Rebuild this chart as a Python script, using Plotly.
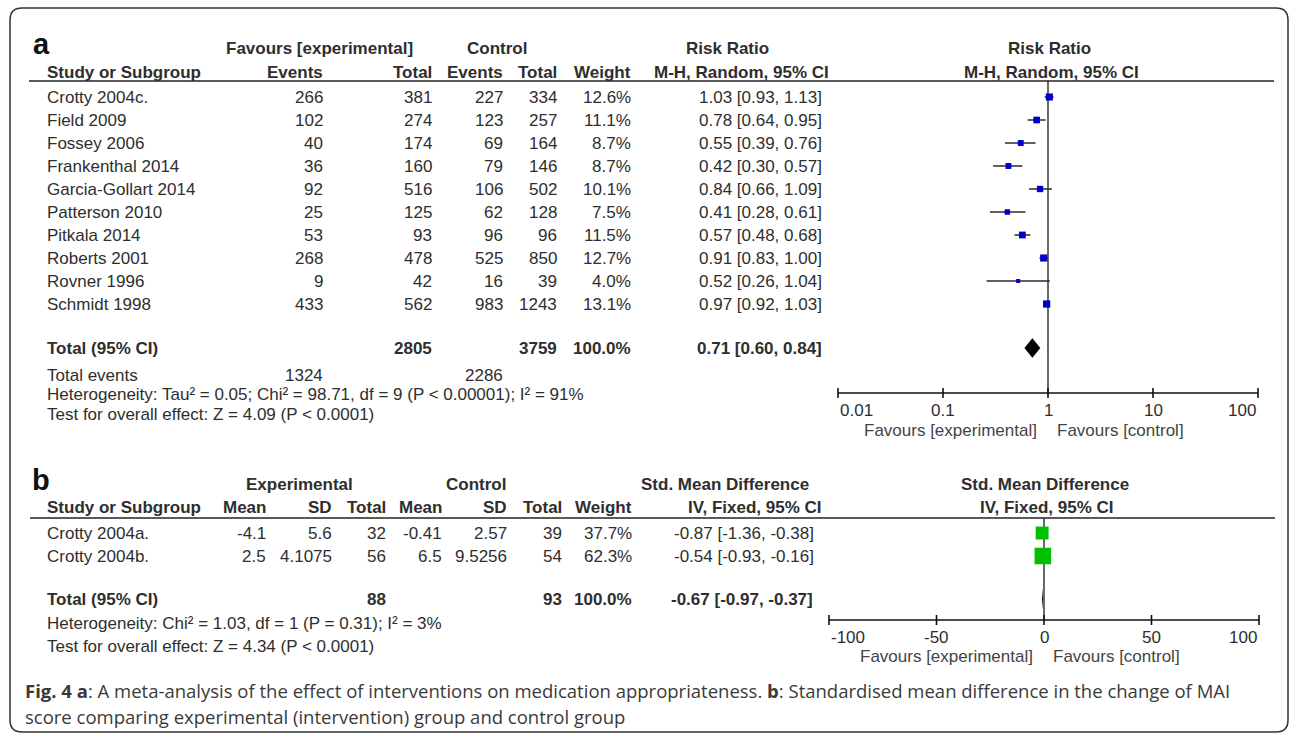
import numpy as np
import plotly.graph_objects as go

W, H = 1292, 736

# ---------------- Data: panel a (Risk Ratio) ----------------
studies_a = ["Crotty 2004c.", "Field 2009", "Fossey 2006", "Frankenthal 2014",
             "Garcia-Gollart 2014", "Patterson 2010", "Pitkala 2014",
             "Roberts 2001", "Rovner 1996", "Schmidt 1998"]
exp_events_a = [266, 102, 40, 36, 92, 25, 53, 268, 9, 433]
exp_total_a = [381, 274, 174, 160, 516, 125, 93, 478, 42, 562]
ctrl_events_a = [227, 123, 69, 79, 106, 62, 96, 525, 16, 983]
ctrl_total_a = [334, 257, 164, 146, 502, 128, 96, 850, 39, 1243]
weight_a = [12.6, 11.1, 8.7, 8.7, 10.1, 7.5, 11.5, 12.7, 4.0, 13.1]
rr = [1.03, 0.78, 0.55, 0.42, 0.84, 0.41, 0.57, 0.91, 0.52, 0.97]
rr_lo = [0.93, 0.64, 0.39, 0.30, 0.66, 0.28, 0.48, 0.83, 0.26, 0.92]
rr_hi = [1.13, 0.95, 0.76, 0.57, 1.09, 0.61, 0.68, 1.00, 1.04, 1.03]
total_a = {"exp_total": 2805, "ctrl_total": 3759, "weight": 100.0,
           "est": 0.71, "lo": 0.60, "hi": 0.84,
           "exp_events": 1324, "ctrl_events": 2286}
het_a = "Heterogeneity: Tau² = 0.05; Chi² = 98.71, df = 9 (P < 0.00001); I² = 91%"
test_a = "Test for overall effect: Z = 4.09 (P < 0.0001)"
ticks_a = [0.01, 0.1, 1, 10, 100]
ticklabels_a = ["0.01", "0.1", "1", "10", "100"]

# ---------------- Data: panel b (Std. Mean Difference) ----------------
studies_b = ["Crotty 2004a.", "Crotty 2004b."]
exp_mean_b = ["-4.1", "2.5"]
exp_sd_b = ["5.6", "4.1075"]
exp_n_b = [32, 56]
ctrl_mean_b = ["-0.41", "6.5"]
ctrl_sd_b = ["2.57", "9.5256"]
ctrl_n_b = [39, 54]
weight_b = [37.7, 62.3]
smd = [-0.87, -0.54]
smd_lo = [-1.36, -0.93]
smd_hi = [-0.38, -0.16]
total_b = {"exp_n": 88, "ctrl_n": 93, "weight": 100.0,
           "est": -0.67, "lo": -0.97, "hi": -0.37}
het_b = "Heterogeneity: Chi² = 1.03, df = 1 (P = 0.31); I² = 3%"
test_b = "Test for overall effect: Z = 4.34 (P < 0.0001)"
ticks_b = [-100, -50, 0, 50, 100]
ticklabels_b = ["-100", "-50", "0", "50", "100"]

caption1 = ("<b>Fig. 4 a</b>: A meta-analysis of the effect of interventions on medication "
            "appropriateness. <b>b</b>: Standardised mean difference in the change of MAI")
caption2 = "score comparing experimental (intervention) group and control group"

# ---------------- helpers ----------------
FONT = "Liberation Sans, Arial, sans-serif"
TXT = "#2e2e2e"
FS = 17


def px(x):
    return x / W


def py(y):
    return 1 - y / H


annotations = []


def txt(x, y, s, anchor="left", bold=False, size=FS, color=TXT, font=FONT):
    if bold:
        s = "<b>" + s + "</b>"
    annotations.append(dict(x=px(x), y=py(y), xref="paper", yref="paper", text=s,
                            showarrow=False, xanchor=anchor, yanchor="middle",
                            font=dict(family=font, size=size, color=color)))


def ci_text(e, lo, hi):
    return f"{e:.2f} [{lo:.2f}, {hi:.2f}]"


fig = go.Figure()
LINEC = "#2a2a2a"

# ================= Panel a =================
A_ROW0, STEP = 97, 23
rows_a = [A_ROW0 + STEP * i for i in range(len(studies_a))]
A_TOTAL, A_EVT, A_HET, A_TEST = 348, 375, 394, 414
A_H1, A_H2, A_LINE = 49, 72, 81
A_AXIS = 393

txt(31, 44, "a", bold=True, size=29, color="#111111")
txt(319, A_H1, "Favours [experimental]", "center", True)
txt(497, A_H1, "Control", "center", True)
txt(728, A_H1, "Risk Ratio", "center", True)
txt(1049, A_H1, "Risk Ratio", "center", True)
txt(45, A_H2, "Study or Subgroup", "left", True)
txt(325, A_H2, "Events", "right", True)
txt(434, A_H2, "Total", "right", True)
txt(505, A_H2, "Events", "right", True)
txt(559, A_H2, "Total", "right", True)
txt(633, A_H2, "Weight", "right", True)
txt(831, A_H2, "M-H, Random, 95% CI", "right", True)
txt(1051, A_H2, "M-H, Random, 95% CI", "center", True)

for i, yv in enumerate(rows_a):
    txt(45, yv, studies_a[i])
    txt(325, yv, str(exp_events_a[i]), "right")
    txt(434, yv, str(exp_total_a[i]), "right")
    txt(505, yv, str(ctrl_events_a[i]), "right")
    txt(559, yv, str(ctrl_total_a[i]), "right")
    txt(633, yv, f"{weight_a[i]:.1f}%", "right")
    txt(824, yv, ci_text(rr[i], rr_lo[i], rr_hi[i]), "right")

txt(45, A_TOTAL, "Total (95% CI)", bold=True)
txt(434, A_TOTAL, str(total_a["exp_total"]), "right", True)
txt(559, A_TOTAL, str(total_a["ctrl_total"]), "right", True)
txt(633, A_TOTAL, f"{total_a['weight']:.1f}%", "right", True)
txt(824, A_TOTAL, ci_text(total_a["est"], total_a["lo"], total_a["hi"]), "right", True)
txt(45, A_EVT, "Total events")
txt(325, A_EVT, str(total_a["exp_events"]), "right")
txt(505, A_EVT, str(total_a["ctrl_events"]), "right")
txt(45, A_HET, het_a)
txt(45, A_TEST, test_a)

# CI lines
xs, ys = [], []
for lo, hi, yv in zip(rr_lo, rr_hi, rows_a):
    xs += [lo, hi, None]
    ys += [yv, yv, None]
fig.add_trace(go.Scatter(x=xs, y=ys, mode="lines", line=dict(color=LINEC, width=1.4),
                         xaxis="x", yaxis="y", hoverinfo="skip"))
# null line
fig.add_trace(go.Scatter(x=[1, 1], y=[A_LINE, A_AXIS], mode="lines",
                         line=dict(color=LINEC, width=1.4), xaxis="x", yaxis="y"))
# axis line + ticks
xs, ys = [ticks_a[0], ticks_a[-1], None], [A_AXIS, A_AXIS, None]
for t in ticks_a:
    xs += [t, t, None]
    ys += [A_AXIS - 5, A_AXIS + 5, None]
fig.add_trace(go.Scatter(x=xs, y=ys, mode="lines", line=dict(color="#111111", width=1.6),
                         xaxis="x", yaxis="y"))
# squares
fig.add_trace(go.Scatter(x=rr, y=rows_a, mode="markers", xaxis="x", yaxis="y",
                         cliponaxis=False,
                         marker=dict(symbol="square", color="#0000CC", opacity=1,
                                     size=[np.sqrt(w) * 2.0 for w in weight_a],
                                     line=dict(width=0))))
# diamond
fig.add_trace(go.Scatter(x=[total_a["lo"], total_a["est"], total_a["hi"], total_a["est"], total_a["lo"]],
                         y=[A_TOTAL, A_TOTAL - 9.5, A_TOTAL, A_TOTAL + 9.5, A_TOTAL],
                         mode="lines", fill="toself", fillcolor="#000000",
                         line=dict(color="#000000", width=0.5), xaxis="x", yaxis="y"))

for i, t in enumerate(ticks_a):
    anc = "left" if i == 0 else ("right" if i == len(ticks_a) - 1 else "center")
    annotations.append(dict(x=np.log10(t), y=py(410), xref="x", yref="paper",
                            text=ticklabels_a[i], showarrow=False, xanchor=anc,
                            yanchor="middle", font=dict(family=FONT, size=FS, color=TXT)))
annotations.append(dict(x=0, y=py(430), xref="x", yref="paper", text="Favours [experimental]",
                        showarrow=False, xanchor="right", xshift=-9, yanchor="middle",
                        font=dict(family=FONT, size=FS, color="#444444")))
annotations.append(dict(x=0, y=py(430), xref="x", yref="paper", text="Favours [control]",
                        showarrow=False, xanchor="left", xshift=7, yanchor="middle",
                        font=dict(family=FONT, size=FS, color="#444444")))

# ================= Panel b =================
B_ROW0 = 533
rows_b = [B_ROW0 + STEP * i for i in range(len(studies_b))]
B_TOTAL, B_HET, B_TEST = 599, 623, 646
B_H1, B_H2, B_LINE = 485, 508, 518
B_AXIS = 620

txt(30, 480, "b", bold=True, size=29, color="#111111")
txt(299, B_H1, "Experimental", "center", True)
txt(476, B_H1, "Control", "center", True)
txt(725, B_H1, "Std. Mean Difference", "center", True)
txt(1045, B_H1, "Std. Mean Difference", "center", True)
txt(45, B_H2, "Study or Subgroup", "left", True)
txt(268, B_H2, "Mean", "right", True)
txt(334, B_H2, "SD", "right", True)
txt(388, B_H2, "Total", "right", True)
txt(444, B_H2, "Mean", "right", True)
txt(509, B_H2, "SD", "right", True)
txt(564, B_H2, "Total", "right", True)
txt(634, B_H2, "Weight", "right", True)
txt(824, B_H2, "IV, Fixed, 95% CI", "right", True)
txt(1047, B_H2, "IV, Fixed, 95% CI", "center", True)

for i, yv in enumerate(rows_b):
    txt(45, yv, studies_b[i])
    txt(268, yv, exp_mean_b[i], "right")
    txt(334, yv, exp_sd_b[i], "right")
    txt(388, yv, str(exp_n_b[i]), "right")
    txt(444, yv, ctrl_mean_b[i], "right")
    txt(509, yv, ctrl_sd_b[i], "right")
    txt(564, yv, str(ctrl_n_b[i]), "right")
    txt(634, yv, f"{weight_b[i]:.1f}%", "right")
    txt(816, yv, ci_text(smd[i], smd_lo[i], smd_hi[i]), "right")

txt(45, B_TOTAL, "Total (95% CI)", bold=True)
txt(388, B_TOTAL, str(total_b["exp_n"]), "right", True)
txt(564, B_TOTAL, str(total_b["ctrl_n"]), "right", True)
txt(634, B_TOTAL, f"{total_b['weight']:.1f}%", "right", True)
txt(815, B_TOTAL, ci_text(total_b["est"], total_b["lo"], total_b["hi"]), "right", True)
txt(45, B_HET, het_b)
txt(45, B_TEST, test_b)

xs, ys = [], []
for lo, hi, yv in zip(smd_lo, smd_hi, rows_b):
    xs += [lo, hi, None]
    ys += [yv, yv, None]
fig.add_trace(go.Scatter(x=xs, y=ys, mode="lines", line=dict(color=LINEC, width=1.4),
                         xaxis="x2", yaxis="y2"))
fig.add_trace(go.Scatter(x=[0, 0], y=[B_LINE, B_AXIS], mode="lines",
                         line=dict(color=LINEC, width=1.4), xaxis="x2", yaxis="y2"))
xs, ys = [ticks_b[0], ticks_b[-1], None], [B_AXIS, B_AXIS, None]
for t in ticks_b:
    xs += [t, t, None]
    ys += [B_AXIS - 5, B_AXIS + 5, None]
fig.add_trace(go.Scatter(x=xs, y=ys, mode="lines", line=dict(color="#111111", width=1.6),
                         xaxis="x2", yaxis="y2"))
fig.add_trace(go.Scatter(x=smd, y=rows_b, mode="markers", xaxis="x2", yaxis="y2",
                         cliponaxis=False,
                         marker=dict(symbol="square", color="#00C000", opacity=1,
                                     size=[np.sqrt(w) * 2.1 for w in weight_b],
                                     line=dict(width=0))))
fig.add_trace(go.Scatter(x=[total_b["lo"], total_b["est"], total_b["hi"], total_b["est"], total_b["lo"]],
                         y=[B_TOTAL, B_TOTAL - 9.5, B_TOTAL, B_TOTAL + 9.5, B_TOTAL],
                         mode="lines", fill="toself", fillcolor="#000000",
                         line=dict(color="#999999", width=0.3), xaxis="x2", yaxis="y2"))

for i, t in enumerate(ticks_b):
    anc = "left" if i == 0 else ("right" if i == len(ticks_b) - 1 else "center")
    annotations.append(dict(x=t, y=py(637), xref="x2", yref="paper",
                            text=ticklabels_b[i], showarrow=False, xanchor=anc,
                            yanchor="middle", font=dict(family=FONT, size=FS, color=TXT)))
annotations.append(dict(x=0, y=py(656), xref="x2", yref="paper", text="Favours [experimental]",
                        showarrow=False, xanchor="right", xshift=-9, yanchor="middle",
                        font=dict(family=FONT, size=FS, color="#444444")))
annotations.append(dict(x=0, y=py(656), xref="x2", yref="paper", text="Favours [control]",
                        showarrow=False, xanchor="left", xshift=7, yanchor="middle",
                        font=dict(family=FONT, size=FS, color="#444444")))

# caption
CAP_FONT = "Open Sans, Noto Sans, sans-serif"
txt(23, 690, caption1, "left", size=18.5, color="#3a3a3a", font=CAP_FONT)
txt(23, 716, caption2, "left", size=18.5, color="#3a3a3a", font=CAP_FONT)

# ---------------- shapes: header rules and frame ----------------
shapes = [
    dict(type="line", xref="paper", yref="paper", x0=px(29), x1=px(1274), y0=py(A_LINE), y1=py(A_LINE),
         line=dict(color="#222222", width=1.5)),
    dict(type="line", xref="paper", yref="paper", x0=px(30), x1=px(1275), y0=py(B_LINE), y1=py(B_LINE),
         line=dict(color="#222222", width=1.5)),
]
L, T, R, B, r = 10, 8, 1288, 732, 12
path = (f"M {px(L + r)},{py(T)} L {px(R - r)},{py(T)} Q {px(R)},{py(T)} {px(R)},{py(T + r)} "
        f"L {px(R)},{py(B - r)} Q {px(R)},{py(B)} {px(R - r)},{py(B)} "
        f"L {px(L + r)},{py(B)} Q {px(L)},{py(B)} {px(L)},{py(B - r)} "
        f"L {px(L)},{py(T + r)} Q {px(L)},{py(T)} {px(L + r)},{py(T)} Z")
shapes.append(dict(type="path", xref="paper", yref="paper", path=path,
                   line=dict(color="#333333", width=1.5)))

# axis geometry (pixels): panel a 105 px per decade centred at x=1048;
# panel b 2.15 px per unit centred at x=1044; ranges padded so end ticks aren't clipped
A_C, A_DEC, A_PAD = 1048, 105, 0.1
B_C, B_UNIT, B_PAD = 1044, 2.15, 5
a_lo, a_hi = np.log10(ticks_a[0]) - A_PAD, np.log10(ticks_a[-1]) + A_PAD
b_lo, b_hi = ticks_b[0] - B_PAD, ticks_b[-1] + B_PAD

fig.update_layout(
    width=W, height=H, margin=dict(l=0, r=0, t=0, b=0),
    paper_bgcolor="white", plot_bgcolor="rgba(0,0,0,0)", showlegend=False,
    hovermode=False,
    xaxis=dict(type="log", range=[a_lo, a_hi],
               domain=[px(A_C + a_lo * A_DEC), px(A_C + a_hi * A_DEC)],
               visible=False, anchor="y"),
    yaxis=dict(range=[H, 0], domain=[0, 1], visible=False, anchor="x"),
    xaxis2=dict(range=[b_lo, b_hi],
                domain=[px(B_C + b_lo * B_UNIT), px(B_C + b_hi * B_UNIT)],
                visible=False, anchor="y2"),
    yaxis2=dict(range=[H, 0], domain=[0, 1], visible=False, anchor="x2"),
    annotations=annotations, shapes=shapes,
)

fig.write_html("out.html", config={"displayModeBar": False},
               post_script="document.body.style.margin='0';")
